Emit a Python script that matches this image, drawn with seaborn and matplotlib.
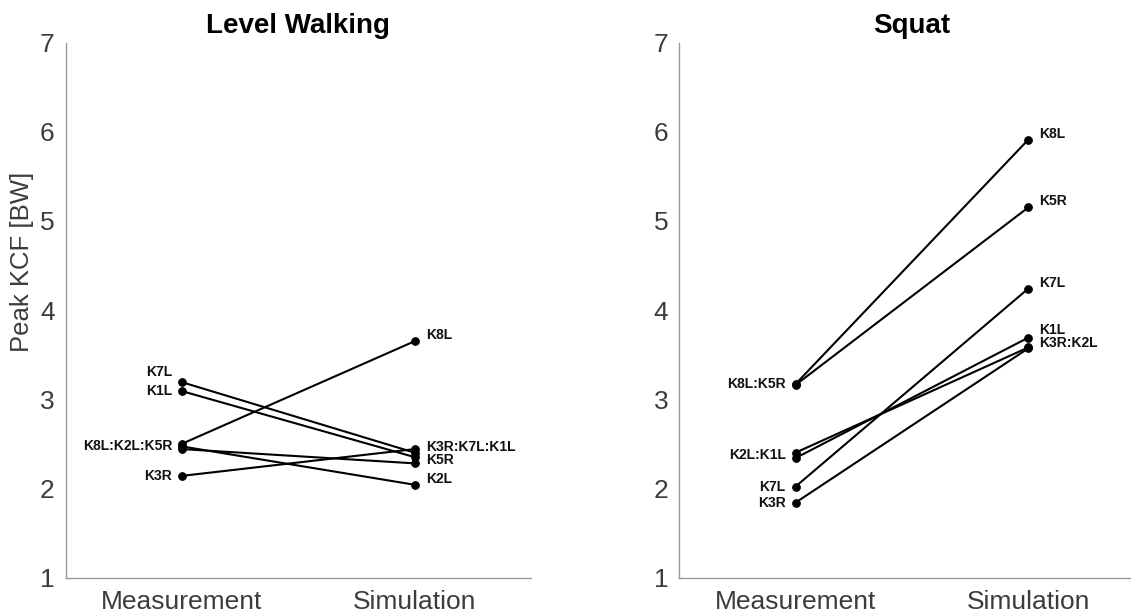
import matplotlib.pyplot as plt
import pandas as pd
import numpy as np
import seaborn as sns

# data
knees = ['K1L', 'K2L', 'K3R', 'K5R', 'K7L', 'K8L']
conditions = ['Measurement', 'Simulation']

walk_meas = [3.09, 2.47, 2.14, 2.44, 3.19, 2.50]
walk_sim = [2.35, 2.04, 2.44, 2.28, 2.40, 3.65]
squat_meas = [2.34, 2.40, 1.84, 3.16, 2.02, 3.17]
squat_sim = [3.69, 3.58, 3.57, 5.15, 4.24, 5.91]

# labels as grouped in the picture
walk_meas_labels = ['K7L', 'K1L', 'K8L:K2L:K5R', 'K3R']
walk_sim_labels = ['K8L', 'K3R:K7L:K1L', 'K5R', 'K2L']
squat_meas_labels = ['K8L:K5R', 'K2L:K1L', 'K7L', 'K3R']
squat_sim_labels = ['K8L', 'K5R', 'K7L', 'K1L', 'K3R:K2L']

panels = [
    ('Level Walking', walk_meas, walk_sim, walk_meas_labels, walk_sim_labels),
    ('Squat', squat_meas, squat_sim, squat_meas_labels, squat_sim_labels),
]

# small vertical nudges (pixels) to keep labels apart
nudge = {('Level Walking', 'K7L'): 10, ('Level Walking', 'K5R'): -3,
         ('Squat', 'K1L'): 2, ('Squat', 'K3R:K2L'): -1}

sns.set_style('white')
plt.rcParams['font.family'] = ['Liberation Sans', 'DejaVu Sans']

fig = plt.figure(figsize=(11.31, 6.16), dpi=100)
ax_pos = [[0.0581, 0.0625, 0.4114, 0.8685], [0.6006, 0.0625, 0.4114, 0.8685]]

grey = '#3c3c3c'
for pos, (title, meas, sim, mlab, slab) in zip(ax_pos, panels):
    ax = fig.add_axes(pos)
    df = pd.DataFrame({
        'knee': knees * 2,
        'condition': [conditions[0]] * len(knees) + [conditions[1]] * len(knees),
        'kcf': meas + sim,
    })
    df['x'] = df['condition'].map({c: i for i, c in enumerate(conditions)})
    sns.lineplot(data=df, x='x', y='kcf', units='knee', estimator=None,
                 color='black', marker='o', markersize=5.5, markeredgecolor='black',
                 linewidth=1.5, ax=ax, legend=False)

    vals = {0: dict(zip(knees, meas)), 1: dict(zip(knees, sim))}
    for xi, labs, ha, dx, dy in [(0, mlab, 'right', -10, 0), (1, slab, 'left', 11, 6)]:
        for lab in labs:
            y = np.mean([vals[xi][k] for k in lab.split(':')])
            ax.annotate(lab, (xi, y), xytext=(dx, dy + nudge.get((title, lab), 0)),
                        textcoords='offset pixels', ha=ha, va='center',
                        fontsize=10, fontweight='bold', color='#111111')

    ax.set_xlim(-0.5, 1.5)
    ax.set_ylim(1, 7)
    ax.set_xticks([0, 1])
    ax.set_xticklabels(conditions)
    ax.set_yticks(range(1, 8))
    ax.set_xlabel('')
    ax.set_ylabel('')
    ax.set_title(title, fontsize=20, fontweight='bold', pad=7, color='black')
    for s in ['top', 'right']:
        ax.spines[s].set_visible(False)
    for s in ['left', 'bottom']:
        ax.spines[s].set_color('#9a9a9a')
        ax.spines[s].set_linewidth(1.0)
    ax.tick_params(axis='both', direction='in', length=4, width=0.8,
                   color='#9a9a9a', labelsize=19, labelcolor=grey)
    ax.tick_params(axis='x', pad=9)
    ax.tick_params(axis='y', pad=8)

fig.text(22 / 1131, 1 - 262 / 616, 'Peak KCF [BW]', rotation=90,
         ha='center', va='center', fontsize=18.5, color=grey)

fig.savefig('out.png', dpi=100)
